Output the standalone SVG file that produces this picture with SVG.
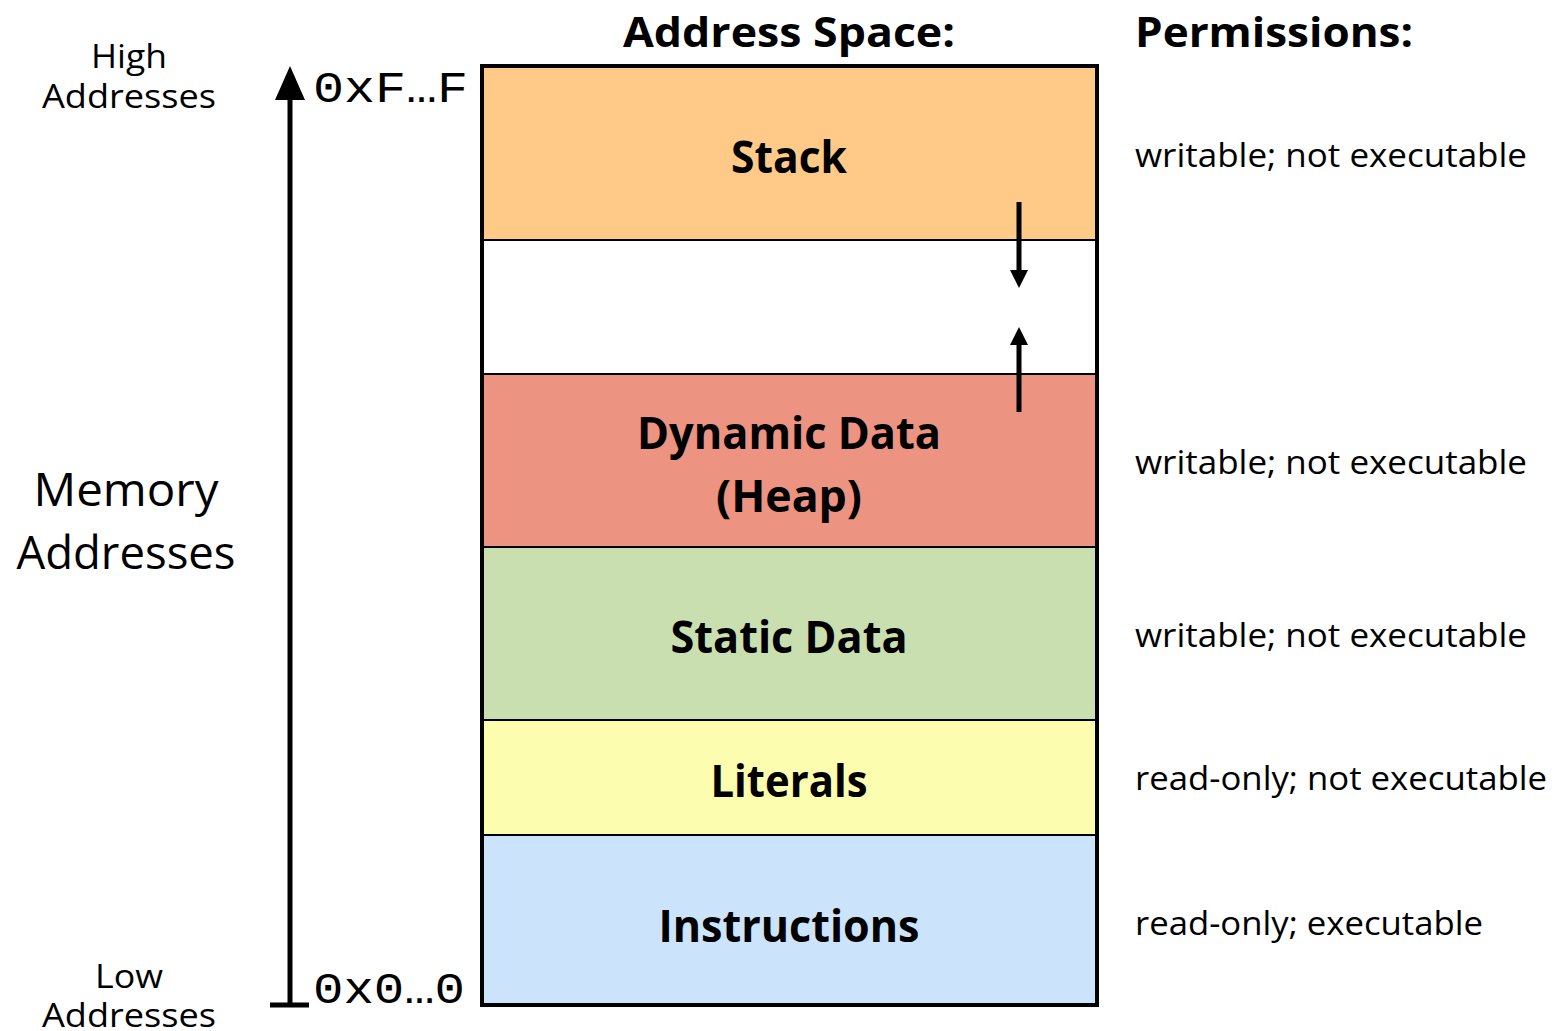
<svg xmlns="http://www.w3.org/2000/svg" width="1559" height="1031" viewBox="0 0 1559 1031">
<defs>
<style>
.t{font-family:"Open Sans","Noto Sans","Liberation Sans",sans-serif;fill:#000}
.b{font-weight:bold}
.m{font-family:"Liberation Mono","DejaVu Sans Mono",monospace;fill:#000}
.seg{stroke:#000;stroke-width:2}
.ln{stroke:#000;stroke-width:5;fill:none}
.hd{fill:#000}
</style>
</defs>
<rect width="1559" height="1031" fill="#fff"/>
<text class="t b" x="789" y="47" font-size="42" text-anchor="middle" textLength="332" lengthAdjust="spacingAndGlyphs">Address Space:</text>
<text class="t b" x="1135" y="47" font-size="42" textLength="278" lengthAdjust="spacingAndGlyphs">Permissions:</text>
<g id="left-labels">
<text class="t" x="129" y="68" font-size="32" text-anchor="middle" textLength="76" lengthAdjust="spacingAndGlyphs">High</text>
<text class="t" x="129" y="108" font-size="32" text-anchor="middle" textLength="174" lengthAdjust="spacingAndGlyphs">Addresses</text>
<text class="t" x="126" y="506" font-size="46" text-anchor="middle" textLength="185" lengthAdjust="spacingAndGlyphs">Memory</text>
<text class="t" x="126" y="569" font-size="46" text-anchor="middle" textLength="219" lengthAdjust="spacingAndGlyphs">Addresses</text>
<text class="t" x="129" y="988" font-size="32" text-anchor="middle" textLength="68" lengthAdjust="spacingAndGlyphs">Low</text>
<text class="t" x="129" y="1027" font-size="32" text-anchor="middle" textLength="174" lengthAdjust="spacingAndGlyphs">Addresses</text>
<text class="m" x="313" y="102" font-size="44" textLength="155" lengthAdjust="spacingAndGlyphs">0xF…F</text>
<text class="m" x="313" y="1003" font-size="44" textLength="152" lengthAdjust="spacingAndGlyphs">0x0…0</text>
</g>
<g id="stack"><rect class="seg" x="482" y="66" width="615" height="174" fill="#FFC988"/>
<text class="t b" x="789" y="173" font-size="44" text-anchor="middle" textLength="116" lengthAdjust="spacingAndGlyphs">Stack</text></g>
<g id="gap"><rect class="seg" x="482" y="240" width="615" height="134" fill="#fff"/></g>
<g id="heap"><rect class="seg" x="482" y="374" width="615" height="173" fill="#EC9382"/>
<text class="t b" x="789" y="449" font-size="44" text-anchor="middle" textLength="304" lengthAdjust="spacingAndGlyphs">Dynamic Data</text>
<text class="t b" x="789" y="512" font-size="44" text-anchor="middle" textLength="146" lengthAdjust="spacingAndGlyphs">(Heap)</text></g>
<g id="static"><rect class="seg" x="482" y="547" width="615" height="173" fill="#C9DFAF"/>
<text class="t b" x="789" y="653" font-size="44" text-anchor="middle" textLength="237" lengthAdjust="spacingAndGlyphs">Static Data</text></g>
<g id="literals"><rect class="seg" x="482" y="720" width="615" height="115" fill="#FDFDAF"/>
<text class="t b" x="789" y="797" font-size="44" text-anchor="middle" textLength="157" lengthAdjust="spacingAndGlyphs">Literals</text></g>
<g id="instructions"><rect class="seg" x="482" y="835" width="615" height="170" fill="#CCE4FB"/>
<text class="t b" x="789" y="942" font-size="44" text-anchor="middle" textLength="261" lengthAdjust="spacingAndGlyphs">Instructions</text></g>
<rect x="482" y="66" width="615" height="939" fill="none" stroke="#000" stroke-width="4"/>
<g id="connectors">
<line class="ln" x1="290" y1="1006" x2="290" y2="96"/>
<polygon class="hd" points="290,66 275,100 305,100"/>
<line class="ln" x1="270" y1="1005" x2="309" y2="1005"/>
<line x1="1019" y1="202" x2="1019" y2="272" stroke="#000" stroke-width="5"/>
<polygon class="hd" points="1010,270 1028,270 1019,288"/>
<line x1="1019" y1="412" x2="1019" y2="343" stroke="#000" stroke-width="5"/>
<polygon class="hd" points="1010,345 1028,345 1019,327"/>
</g>
<g id="permissions">
<text class="t" x="1135" y="167" font-size="32" textLength="392" lengthAdjust="spacingAndGlyphs">writable; not executable</text>
<text class="t" x="1135" y="474" font-size="32" textLength="392" lengthAdjust="spacingAndGlyphs">writable; not executable</text>
<text class="t" x="1135" y="647" font-size="32" textLength="392" lengthAdjust="spacingAndGlyphs">writable; not executable</text>
<text class="t" x="1135" y="790" font-size="32" textLength="412" lengthAdjust="spacingAndGlyphs">read-only; not executable</text>
<text class="t" x="1135" y="935" font-size="32" textLength="348" lengthAdjust="spacingAndGlyphs">read-only; executable</text>
</g>
</svg>
